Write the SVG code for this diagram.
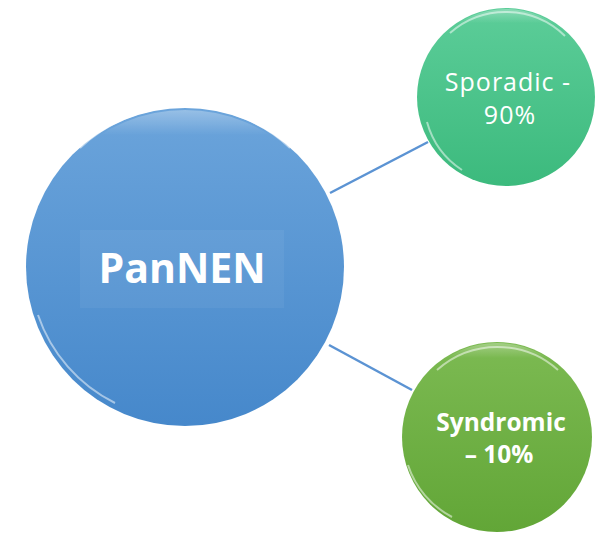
<svg xmlns="http://www.w3.org/2000/svg" width="597" height="538" viewBox="0 0 597 538">
<defs>
<linearGradient id="gBlue" x1="0" y1="0" x2="0" y2="1">
<stop offset="0" stop-color="#6ba4db"/>
<stop offset="1" stop-color="#4688cb"/>
</linearGradient>
<linearGradient id="gTeal" x1="0" y1="0" x2="0" y2="1">
<stop offset="0" stop-color="#5ccd99"/>
<stop offset="1" stop-color="#3cba7d"/>
</linearGradient>
<linearGradient id="gGreen" x1="0" y1="0" x2="0" y2="1">
<stop offset="0" stop-color="#7cba52"/>
<stop offset="1" stop-color="#62a637"/>
</linearGradient>
<linearGradient id="rimTop" x1="0" y1="0" x2="0" y2="1">
<stop offset="0" stop-color="#ffffff" stop-opacity="0.3"/>
<stop offset="0.08" stop-color="#ffffff" stop-opacity="0"/>
<stop offset="1" stop-color="#ffffff" stop-opacity="0"/>
</linearGradient>
<style>
.conn{stroke:#5b93d3;stroke-width:2.5;fill:none}
.rim{fill:none;stroke:#ffffff;stroke-opacity:0.5;stroke-width:2}
.lbl{fill:#ffffff;text-anchor:middle;font-family:"Open Sans","Noto Sans","Liberation Sans",sans-serif}
</style>
</defs>
<rect width="597" height="538" fill="#ffffff"/>
<g id="connectors">
<line class="conn" x1="330" y1="193" x2="428" y2="142"/>
<line class="conn" x1="329" y1="345" x2="412" y2="390"/>
</g>
<g id="node-pannen">
<circle cx="185" cy="267" r="159" fill="url(#gBlue)"/>
<circle cx="185" cy="267" r="157" fill="url(#rimTop)"/>
<path class="rim" d="M 80 148 A 153 153 0 0 1 290 148" stroke-width="4" stroke-opacity="0.35"/>
<path class="rim" d="M 38 315 A 153 153 0 0 0 115 403" stroke-width="3"/>
<path class="rim" d="M 340 225 A 157 157 0 0 1 340 310" stroke-width="1.5"/>
<rect x="80" y="230" width="204" height="78" fill="#ffffff" fill-opacity="0.05"/>
<text class="lbl" x="182" y="283" font-size="41" font-weight="bold">PanNEN</text>
</g>
<g id="node-sporadic">
<circle cx="506" cy="97" r="89" fill="url(#gTeal)"/>
<circle cx="506" cy="97" r="88" fill="url(#rimTop)"/>
<path class="rim" d="M 450 33 A 85 85 0 0 1 565 36" stroke-width="3" stroke-opacity="0.35"/>
<path class="rim" d="M 427 122 A 84 84 0 0 0 462 170" stroke-width="3"/>
<text class="lbl" x="508" y="91" font-size="25" letter-spacing="1">Sporadic -</text>
<text class="lbl" x="510" y="124" font-size="25" letter-spacing="1">90%</text>
</g>
<g id="node-syndromic">
<circle cx="497" cy="437" r="95" fill="url(#gGreen)"/>
<circle cx="497" cy="437" r="94" fill="url(#rimTop)"/>
<path class="rim" d="M 437 370 A 91 91 0 0 1 558 370" stroke-width="3" stroke-opacity="0.35"/>
<path class="rim" d="M 408 465 A 91 91 0 0 0 452 517" stroke-width="3"/>
<text class="lbl" x="501" y="431" font-size="24.5" font-weight="bold">Syndromic</text>
<text class="lbl" x="499" y="463" font-size="24.5" font-weight="bold">– 10%</text>
</g>
</svg>
